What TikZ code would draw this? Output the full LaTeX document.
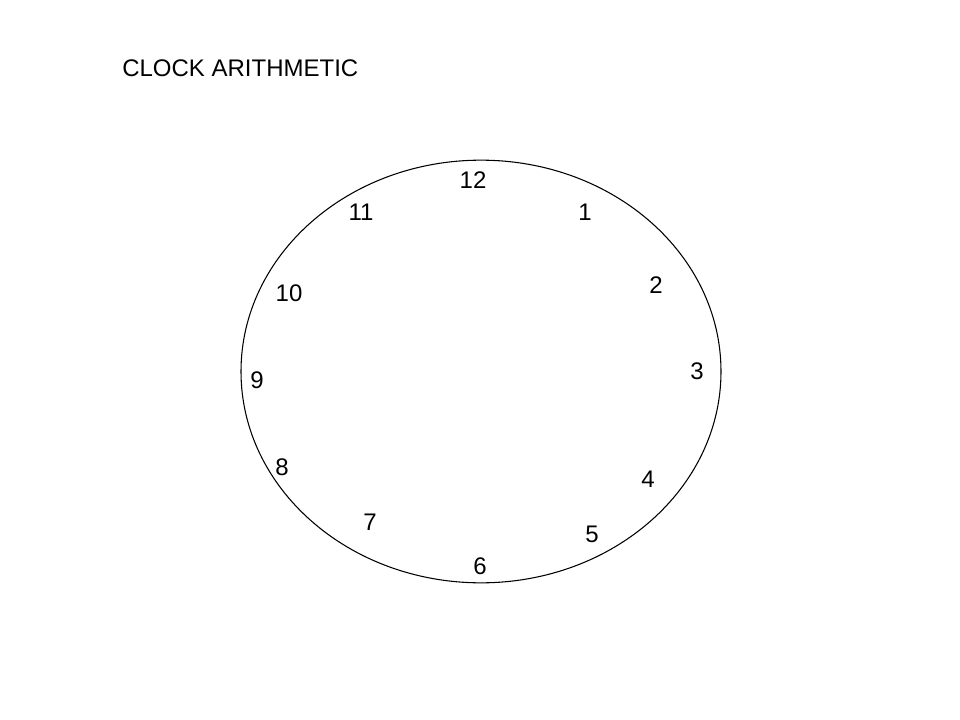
\documentclass[tikz,border=0pt]{standalone}
\usepackage{fontspec}
\setmainfont{Liberation Sans}
\usetikzlibrary{shapes.geometric}
\begin{document}
\begin{tikzpicture}[x=0.75pt,y=-0.75pt,
  num/.style={inner sep=0pt,font=\fontsize{18}{21}\selectfont},
  face/.style={draw=black,line width=0.8pt}]
\useasboundingbox (0,0) rectangle (960,720);
\node[num,anchor=west] (title) at (122,68) {CLOCK ARITHMETIC};
\node[face,ellipse,minimum width=360pt,minimum height=317pt,inner sep=0pt] (clock) at (481,371.5) {};
\node[num] (n12) at (473,180) {12};
\node[num] (n11) at (361,212) {11};
\node[num] (n1) at (585,212) {1};
\node[num] (n2) at (656,285) {2};
\node[num] (n10) at (289,293) {10};
\node[num] (n3) at (697,371) {3};
\node[num] (n9) at (257,380) {9};
\node[num] (n8) at (282,467) {8};
\node[num] (n4) at (648,479) {4};
\node[num] (n7) at (370,522) {7};
\node[num] (n5) at (592,534) {5};
\node[num] (n6) at (480,566) {6};
\end{tikzpicture}
\end{document}
